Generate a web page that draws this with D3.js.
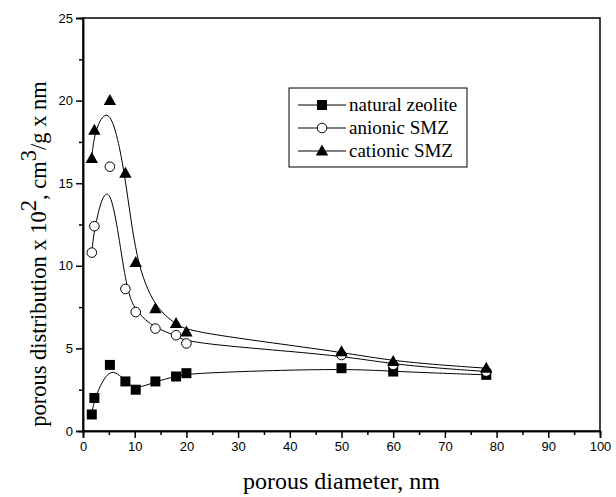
<!DOCTYPE html>
<html><head><meta charset="utf-8">
<script src="https://cdn.jsdelivr.net/npm/d3@7"></script>
<style>body{margin:0;background:#fff}</style>
</head><body>
<script>
const xNatural = [1.7, 2.2, 5.2, 8.2, 10.2, 14, 18, 20, 50, 60, 78];
const yNatural = [1.0, 2.0, 4.0, 3.0, 2.5, 3.0, 3.3, 3.5, 3.8, 3.6, 3.4];
const xAnionic = [1.7, 2.2, 5.2, 8.2, 10.2, 14, 18, 20, 50, 60, 78];
const yAnionic = [10.8, 12.4, 16.0, 8.6, 7.2, 6.2, 5.8, 5.3, 4.6, 4.0, 3.6];
const xCationic = [1.7, 2.2, 5.2, 8.2, 10.2, 14, 18, 20, 50, 60, 78];
const yCationic = [16.5, 18.2, 20.0, 15.6, 10.2, 7.4, 6.5, 6.0, 4.8, 4.2, 3.8];
const seriesNames = ["natural zeolite", "anionic SMZ", "cationic SMZ"];
const xTicks = [0,10,20,30,40,50,60,70,80,90,100];
const yTicks = [0,5,10,15,20,25];

const W = 616, H = 497;
const L = 83, R = 600, T = 18, B = 431;
const SERIF = "'Liberation Serif', 'Times New Roman', serif";
const SANS = "'Liberation Sans', Arial, sans-serif";
const svg = d3.select("body").append("svg").attr("width", W).attr("height", H);
const x = d3.scaleLinear().domain([0,100]).range([L,R]);
const y = d3.scaleLinear().domain([0,25]).range([B,T]);

// box
svg.append("rect").attr("x",L).attr("y",T).attr("width",R-L).attr("height",B-T)
  .attr("fill","none").attr("stroke","#000").attr("stroke-width",1.5);

// axes
const xAx = svg.append("g").attr("transform",`translate(0,${B})`)
  .call(d3.axisBottom(x).tickValues(xTicks).tickSize(7).tickPadding(4).tickFormat(d3.format("d")));
const xMinor = svg.append("g").attr("transform",`translate(0,${B})`)
  .call(d3.axisBottom(x).tickValues(d3.range(5,100,10)).tickSize(4).tickFormat(""));
const yAx = svg.append("g").attr("transform",`translate(${L},0)`)
  .call(d3.axisLeft(y).tickValues(yTicks).tickSize(7).tickPadding(3).tickFormat(d3.format("d")));
const yMinor = svg.append("g").attr("transform",`translate(${L},0)`)
  .call(d3.axisLeft(y).tickValues(d3.range(2.5,25,5)).tickSize(4).tickFormat(""));
[xAx,xMinor,yAx,yMinor].forEach(g=>{
  g.select(".domain").attr("stroke","#000").attr("stroke-width",1.5);
  g.selectAll(".tick line").attr("stroke","#000").attr("stroke-width",1.5);
  g.selectAll(".tick text").attr("font-family",SANS).attr("font-size",13).attr("fill","#000");
});

// axis titles
svg.append("text").attr("x",(L+R)/2).attr("y",489).attr("text-anchor","middle")
  .attr("font-family",SERIF).attr("font-size",24).text("porous diameter, nm");
const yt = svg.append("text").attr("transform",`translate(46,254) rotate(-90)`).attr("text-anchor","middle")
  .attr("font-family",SERIF).attr("font-size",22.5);
yt.append("tspan").text("porous distribution x 10");
yt.append("tspan").attr("dy",-10).text("2");
yt.append("tspan").attr("dy",10).text(", cm");
yt.append("tspan").attr("dy",-10).text("3");
yt.append("tspan").attr("dy",10).text("/g x nm");

const series = [
  {xs:xNatural, ys:yNatural, m:"square"},
  {xs:xAnionic, ys:yAnionic, m:"circle"},
  {xs:xCationic, ys:yCationic, m:"triangle"}
];
const line = d3.line().x(d=>x(d[0])).y(d=>y(d[1])).curve(d3.curveBasis);
function marker(g, type, cx, cy){
  if(type==="square") g.append("rect").attr("x",cx-5).attr("y",cy-5).attr("width",10).attr("height",10).attr("fill","#000");
  else if(type==="circle") g.append("circle").attr("cx",cx).attr("cy",cy).attr("r",4.8).attr("fill","#fff").attr("stroke","#000").attr("stroke-width",1);
  else g.append("path").attr("d",`M${cx},${cy-6.5}L${cx+6.2},${cy+4.5}L${cx-6.2},${cy+4.5}Z`).attr("fill","#000");
}
series.forEach(s=>{
  const pts = s.xs.map((v,i)=>[v,s.ys[i]]);
  svg.append("path").attr("d",line(pts)).attr("fill","none").attr("stroke","#000").attr("stroke-width",1);
});
series.forEach(s=>{
  const g = svg.append("g");
  s.xs.forEach((v,i)=>marker(g,s.m,x(v),y(s.ys[i])));
});

// legend
const lg = svg.append("g");
lg.append("rect").attr("x",289).attr("y",88).attr("width",178).attr("height",79)
  .attr("fill","#fff").attr("stroke","#000").attr("stroke-width",1);
seriesNames.forEach((n,i)=>{
  const yy = 105 + i*23;
  lg.append("line").attr("x1",298).attr("x2",346).attr("y1",yy).attr("y2",yy).attr("stroke","#000").attr("stroke-width",1);
  marker(lg, series[i].m, 322, yy);
  lg.append("text").attr("x",349).attr("y",yy+6).attr("font-family",SERIF)
    .attr("font-size",19).text(n);
});
</script>
</body></html>
